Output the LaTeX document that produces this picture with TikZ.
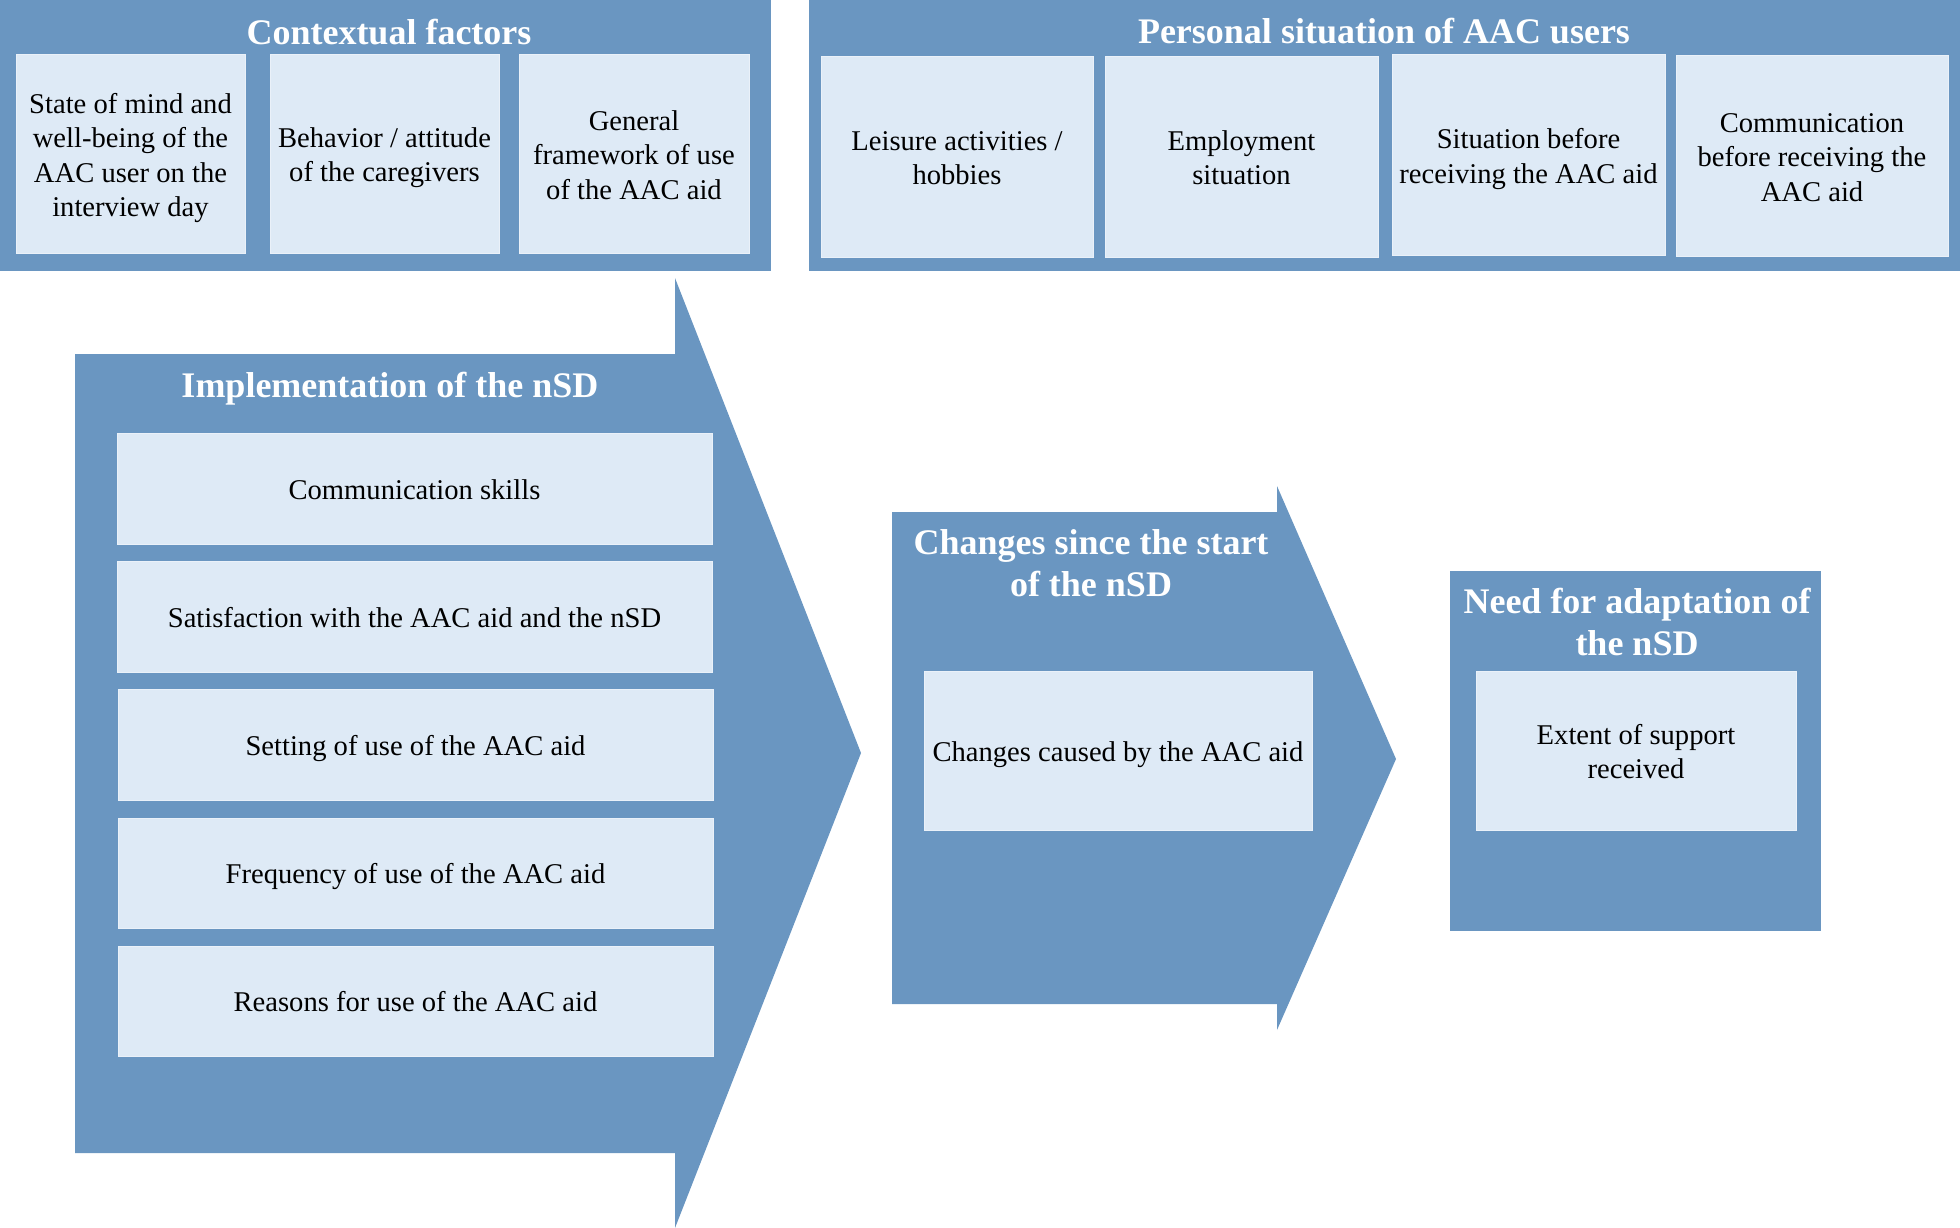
\documentclass[tikz,border=0pt]{standalone}
\usepackage{fontspec}
\setmainfont{Liberation Serif}
\definecolor{dkblue}{HTML}{6A96C1}
\definecolor{ltblue}{HTML}{DEEAF6}
\definecolor{ltedge}{HTML}{EAF1F9}
\newcommand{\mystrut}{\rule[-6.5pt]{0pt}{34.5pt}}
\tikzset{
  panel/.style={fill=dkblue, draw=none},
  lbox/.style={fill=ltblue, draw=ltedge, line width=1pt, inner sep=0pt, align=center,
    font=\fontsize{28.6}{34.5}\selectfont},
  ttl/.style={text=white, align=center, inner sep=0pt,
    font=\fontsize{36}{42}\selectfont\bfseries},
}
\newcommand{\bx}[6]{% name, x1, y1, x2, y2, text
  \node[lbox, minimum width={#4-#2}, minimum height={#5-#3}] (#1) at ({(#2+#4)/2},{(#3+#5)/2}) {\mystrut#6\mystrut};}
\begin{document}
\begin{tikzpicture}[x=1pt,y=-1pt]
\useasboundingbox (0,0) rectangle (1960,1228);
% top panels
\fill[panel] (0,0) rectangle (771,271);
\fill[panel] (809,0) rectangle (1960,271);
\node[ttl, anchor=base] (tctx) at (389,44.5) {Contextual factors};
\node[ttl, anchor=base] (tpers) at (1384,43.5) {Personal situation of AAC users};
\bx{c1}{16}{55}{245}{253}{State of mind and\\well-being of the\\AAC user on the\\interview day}
\bx{c2}{270}{55}{499}{253}{Behavior / attitude\\of the caregivers}
\bx{c3}{519}{55}{749}{253}{General\\framework of use\\of the AAC aid}
\bx{p1}{821}{57}{1093}{257}{Leisure activities /\\hobbies}
\bx{p2}{1105}{57}{1378}{257}{Employment\\situation}
\bx{p3}{1392}{55}{1665}{255}{Situation before\\receiving the AAC aid}
\bx{p4}{1676}{56}{1948}{256}{Communication\\before receiving the\\AAC aid}
% arrow 1
\fill[panel] (75,354) -- (675,354) -- (675,278) -- (861,753) -- (675,1228) -- (675,1153) -- (75,1153) -- cycle;
\node[ttl, anchor=base] (timpl) at (390,397) {Implementation of the nSD};
\bx{i1}{117}{433}{712}{544}{Communication skills}
\bx{i2}{117}{561}{712}{672}{Satisfaction with the AAC aid and the nSD}
\bx{i3}{118}{689}{713}{800}{Setting of use of the AAC aid}
\bx{i4}{118}{818}{713}{928}{Frequency of use of the AAC aid}
\bx{i5}{118}{946}{713}{1056}{Reasons for use of the AAC aid}
% arrow 2
\fill[panel] (892,512) -- (1277,512) -- (1277,486) -- (1396,759) -- (1277,1030) -- (1277,1004) -- (892,1004) -- cycle;
\node[ttl] (tchg) at (1091,563) {Changes since the start\\of the nSD};
\bx{g1}{924}{671}{1312}{830}{Changes caused by the AAC aid}
% panel 3
\fill[panel] (1450,571) rectangle (1821,931);
\node[ttl] (tneed) at (1637,622) {Need for adaptation of\\the nSD};
\bx{n1}{1476}{671}{1796}{830}{Extent of support\\received}
\end{tikzpicture}
\end{document}
